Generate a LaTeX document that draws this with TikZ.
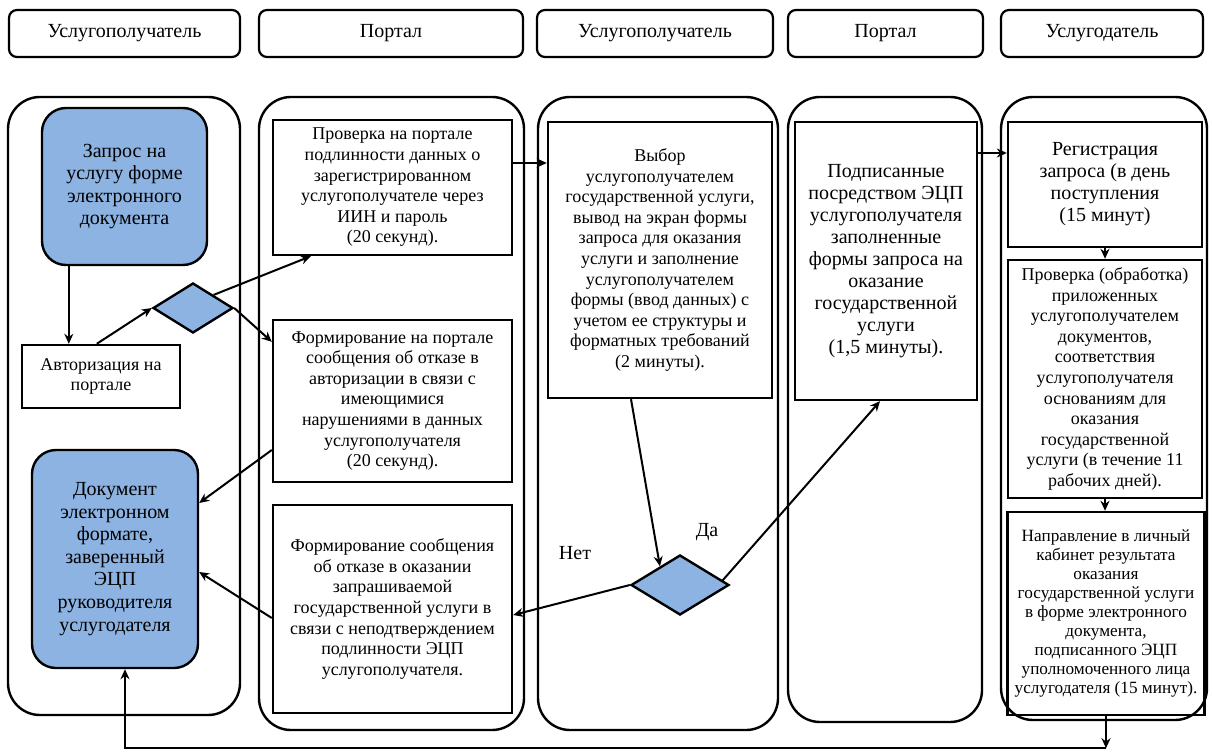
\documentclass[tikz,border=0pt]{standalone}
\usepackage{fontspec}
\setmainfont{Liberation Serif}
\usetikzlibrary{arrows.meta,calc,shapes.geometric}
\definecolor{docblue}{RGB}{141,179,226}
\tikzset{
	lane/.style={line width=1.2pt, rounded corners=16pt},
	head/.style={draw, line width=1.1pt, rounded corners=4pt, minimum height=23.5pt, inner sep=0pt, font=\fontsize{10}{12}\selectfont},
	procbox/.style={draw, line width=1.2pt, align=center, inner sep=0pt, font=\fontsize{9}{10.3}\selectfont},
	bigbox/.style={procbox, font=\fontsize{10}{11}\selectfont},
	docbox/.style={procbox, fill=docblue, rounded corners=12pt, font=\fontsize{10}{11.3}\selectfont},
	choice/.style={draw, diamond, fill=docblue, line width=1.2pt, inner sep=0pt},
	arr/.style={-{Stealth[length=5pt,width=4.5pt]}, line width=1pt},
}

\begin{document}
\begin{tikzpicture}[x=0.5pt, y=-0.5pt]
			%%%%% START %%%%%
			\useasboundingbox (0, 0) rectangle (1213, 753);
			
			\node[head, minimum width=115.5pt] (hrecv1) at (124.5, 33.5) {Услугополучатель};
			\node[head, minimum width=132pt] (hportal1) at (391, 33.5) {Портал};
			\node[head, minimum width=118pt] (hrecv2) at (655, 33.5) {Услугополучатель};
			\node[head, minimum width=97.5pt] (hportal2) at (885.5, 33.5) {Портал};
			\node[head, minimum width=101pt] (hgiver) at (1102, 33.5) {Услугодатель};
			
			\draw[lane] (8, 97) rectangle (240, 715);
			\draw[lane] (259, 97) rectangle (524, 730);
			\draw[lane] (538, 97) rectangle (778, 730);
			\draw[lane] (788, 97) rectangle (982, 722);
			\draw[lane] (1001, 97) rectangle (1207, 720);
			
			\node[docbox, minimum width=82.5pt, minimum height=78.5pt] (req) at (124.5, 186.5) {Запрос на\\услугу форме\\электронного\\документа};
			\node[procbox, minimum width=79pt, minimum height=31.5pt] (auth) at (101, 376.5) {Авторизация на\\портале};
			\node[choice, minimum width=40pt, minimum height=25pt] (dia1) at (193, 308) {};
			\node[docbox, minimum width=83pt, minimum height=109pt] (doc) at (115, 559) {Документ\\электронном\\формате,\\заверенный\\ЭЦП\\руководителя\\услугодателя};
			
			\node[procbox, minimum width=119.5pt, minimum height=67.5pt] (chk) at (392.5, 187.5) {Проверка на портале\\подлинности данных о\\зарегистрированном\\услугополучателе через\\ИИН и пароль\\(20 секунд).};
			\node[procbox, minimum width=119.5pt, minimum height=81pt] (rej1) at (392.5, 401) {Формирование на портале\\сообщения об отказе в\\авторизации в связи с\\имеющимися\\нарушениями в данных\\услугополучателя\\(20 секунд).};
			\node[procbox, minimum width=119.5pt, minimum height=104pt] (rej2) at (392.5, 609) {Формирование сообщения\\об отказе в оказании\\запрашиваемой\\государственной услуги в\\связи с неподтверждением\\подлинности ЭЦП\\услугополучателя.};
			
			\node[procbox, minimum width=112pt, minimum height=138pt] (sel) at (660, 260) {Выбор\\услугополучателем\\государственной услуги,\\вывод на экран формы\\запроса для оказания\\услуги и заполнение\\услугополучателем\\формы (ввод данных) с\\учетом ее структуры и\\форматных требований\\(2 минуты).};
			\node[choice, minimum width=49pt, minimum height=30pt] (dia2) at (680, 585) {};
			\node[font=\fontsize{10}{12}\selectfont] (lblno) at (575, 553) {Нет};
			\node[font=\fontsize{10}{12}\selectfont] (lblyes) at (707, 532) {Да};
			
			\node[bigbox, minimum width=91pt, minimum height=139pt] (sig) at (886, 261) {Подписанные\\посредством ЭЦП\\услугополучателя\\заполненные\\формы запроса на\\оказание\\государственной\\услуги\\(1,5 минуты).};
			
			\node[bigbox, minimum width=97pt, minimum height=62.5pt] (reg) at (1105, 184.5) {Регистрация\\запроса (в день\\поступления\\(15 минут)};
			\node[procbox, minimum width=97pt, minimum height=119pt] (proc) at (1105, 379) {Проверка (обработка)\\приложенных\\услугополучателем\\документов,\\соответствия\\услугополучателя\\основаниям для\\оказания\\государственной\\услуги (в течение 11\\рабочих дней).};
			\node[procbox, minimum width=98.5pt, minimum height=101.5pt, font=\fontsize{8.6}{9.5}\selectfont] (res) at (1106, 613.5) {Направление в личный\\кабинет результата\\оказания\\государственной услуги\\в форме электронного\\документа,\\подписанного ЭЦП\\уполномоченного лица\\услугодателя (15 минут).};
			
			% arrows
			\draw[arr] ([xshift=14pt]req.south west) -- ([xshift=14pt]req.south west |- auth.north);
			\draw[arr] ([xshift=38pt]auth.north west) -- (dia1.west);
			\draw[arr] (dia1.north east) -- ([xshift=19.5pt]chk.south west);
			\draw[arr] (dia1.east) -- ([yshift=-11.5pt]rej1.north west);
			\draw[arr] ([yshift=-24.5pt]rej1.west) -- ([yshift=28pt]doc.east);
			\draw[arr] ([yshift=-4.5pt]rej2.west) -- ([yshift=-6.5pt]doc.east);
			
			\coordinate (c1) at ([yshift=12.25pt]chk.east);
			\draw[arr] (c1) -- (c1 -| sel.west);
			\draw[arr] ([xshift=-14.5pt]sel.south) -- ($(dia2.west)!0.6!(dia2.north)$);
			\draw[arr] ($(dia2.east)!0.15!(dia2.north)$) -- ([xshift=-3pt]sig.south);
			\draw[arr] (dia2.west) -- ([yshift=-3pt]rej2.east);
			
			\coordinate (c2) at ([yshift=15.75pt]reg.west);
			\draw[arr] (c2 -| sig.east) -- (c2);
			\draw[arr] (reg.south) -- (proc.north);
			\draw[arr] (proc.south) -- (proc.south |- res.north);
			
			\coordinate (back) at ([yshift=-16pt]res.south);
			\draw[arr] (res.south) -- (back);
			\draw[arr] (back) -| ([xshift=5pt]doc.south);
			
			%%%%% END %%%%%
\end{tikzpicture}
\end{document}
